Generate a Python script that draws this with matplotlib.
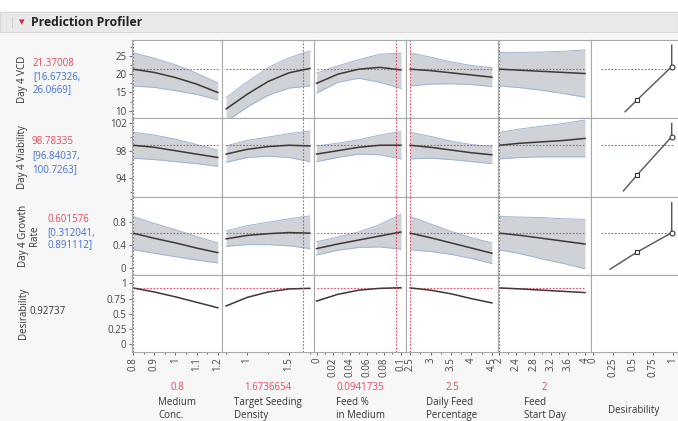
import matplotlib
matplotlib.use("Agg")
import matplotlib.pyplot as plt
from matplotlib import rcParams
from matplotlib.ticker import AutoMinorLocator, FormatStrFormatter

rcParams.update({"font.family": ["Open Sans", "DejaVu Sans"], "font.size": 7})

W, H = 678, 421

factors = ["Medium\nConc.", "Target Seeding\nDensity", "Feed %\nin Medium",
           "Daily Feed\nPercentage", "Feed\nStart Day"]
factor_now = [0.8, 1.6736654, 0.0941735, 2.5, 2.0]
factor_now_txt = ["0.8", "1.6736654", "0.0941735", "2.5", "2"]
factor_x = [
    [0.8, 0.9, 1.0, 1.1, 1.2],
    [0.75, 1.0, 1.25, 1.5, 1.75],
    [0.0, 0.025, 0.05, 0.075, 0.1],
    [2.5, 3.0, 3.5, 4.0, 4.5],
    [2.0, 2.5, 3.0, 3.5, 4.0],
]
factor_xlim = [(0.795, 1.22), (0.70, 1.80), (-0.003, 0.106), (2.40, 4.65), (1.97, 4.14)]
factor_ticks = [[0.8, 0.9, 1, 1.1, 1.2], [1, 1.5], [0, 0.02, 0.04, 0.06, 0.08, 0.1],
                [2.5, 3, 3.5, 4, 4.5], [2, 2.4, 2.8, 3.2, 3.6, 4]]

responses = ["Day 4 VCD", "Day 4 Viability", "Day 4 Growth\nRate", "Desirability"]
resp_now = [21.37008, 98.78335, 0.601576, 0.92737]
resp_now_txt = ["21.37008", "98.78335", "0.601576", "0.92737"]
resp_ci_txt = [["[16.67326,", "26.0669]"], ["[96.84037,", "100.7263]"],
               ["[0.312041,", "0.891112]"], None]
resp_ylim = [(8.0, 29.4), (91.2, 102.8), (-0.13, 1.23), (-0.13, 1.14)]
resp_ticks = [[10, 15, 20, 25], [94, 98, 102], [0, 0.4, 0.8], [0, 0.25, 0.5, 0.75, 1]]

# mean, lower, upper for each response (row) and factor (column)
vcd_mean = [[21.4, 20.5, 19.1, 17.3, 15.0], [10.5, 14.5, 18.0, 20.4, 21.6],
            [17.5, 20.0, 21.4, 21.9, 21.2], [21.4, 21.0, 20.4, 19.8, 19.2],
            [21.4, 21.1, 20.8, 20.5, 20.2]]
vcd_lo = [[16.8, 16.4, 15.5, 14.5, 13.0], [7.0, 11.0, 14.2, 16.2, 16.8],
          [14.8, 17.8, 18.9, 17.8, 16.1], [16.8, 17.3, 17.4, 17.2, 16.6],
          [16.8, 16.3, 15.6, 14.7, 13.7]]
vcd_hi = [[25.9, 24.4, 22.6, 20.3, 17.6], [13.6, 17.9, 21.8, 24.5, 26.4],
          [20.3, 22.3, 24.0, 25.5, 25.8], [25.9, 24.7, 23.4, 22.4, 21.8],
          [26.0, 26.0, 26.1, 26.3, 26.7]]

via_mean = [[98.8, 98.5, 98.0, 97.5, 97.0], [97.5, 98.2, 98.6, 98.8, 98.7],
            [97.5, 98.0, 98.5, 98.8, 98.8], [98.8, 98.5, 98.1, 97.7, 97.4],
            [98.8, 99.1, 99.3, 99.5, 99.8]]
via_lo = [[96.9, 96.7, 96.4, 96.1, 95.7], [96.3, 97.0, 97.2, 97.0, 96.4],
          [96.4, 97.0, 97.5, 97.4, 96.8], [96.8, 96.9, 96.7, 96.4, 96.1],
          [96.8, 97.0, 97.1, 97.1, 97.1]]
via_hi = [[100.7, 100.3, 99.7, 98.9, 98.1], [98.7, 99.5, 100.0, 100.5, 100.9],
          [98.7, 99.1, 99.6, 100.3, 100.8], [100.7, 100.1, 99.4, 98.9, 98.6],
          [100.7, 101.2, 101.6, 102.0, 102.5]]

gr_mean = [[0.60, 0.51, 0.43, 0.34, 0.26], [0.50, 0.56, 0.59, 0.61, 0.60],
           [0.33, 0.41, 0.48, 0.55, 0.62], [0.60, 0.52, 0.43, 0.34, 0.25],
           [0.60, 0.56, 0.51, 0.46, 0.41]]
gr_lo = [[0.31, 0.25, 0.19, 0.13, 0.08], [0.37, 0.40, 0.40, 0.38, 0.33],
         [0.22, 0.30, 0.35, 0.36, 0.32], [0.31, 0.28, 0.23, 0.16, 0.07],
         [0.31, 0.24, 0.15, 0.07, -0.02]]
gr_hi = [[0.89, 0.77, 0.66, 0.54, 0.43], [0.64, 0.73, 0.79, 0.85, 0.90],
         [0.45, 0.53, 0.62, 0.75, 0.93], [0.89, 0.76, 0.63, 0.52, 0.43],
         [0.89, 0.88, 0.87, 0.85, 0.84]]

des_mean = [[0.927, 0.86, 0.78, 0.69, 0.60], [0.63, 0.77, 0.86, 0.91, 0.92],
            [0.71, 0.82, 0.89, 0.92, 0.93], [0.927, 0.89, 0.83, 0.75, 0.68],
            [0.927, 0.91, 0.89, 0.87, 0.85]]

profiles = [(vcd_mean, vcd_lo, vcd_hi), (via_mean, via_lo, via_hi),
            (gr_mean, gr_lo, gr_hi), (des_mean, None, None)]

# desirability functions (desirability on x, response on y)
dfun_x = [[0.40, 0.55, 0.99, 0.99], [0.38, 0.55, 0.99, 0.99], [0.21, 0.545, 0.99, 0.99]]
dfun_y = [[9.7, 12.9, 22.1, 28.0], [92.1, 94.4, 100.05, 102.0], [-0.03, 0.264, 0.607, 1.13]]
des_ticks = [0, 0.25, 0.5, 0.75, 1]

# ---------------- layout ----------------
col_px = [132, 222, 314, 406, 498, 591, 682]
row_px = [40, 118, 197, 275, 352]
RED = "#e4485a"
BLUE = "#3e6fd9"
LINE = "#3f3636"
BAND = "#cfd2d6"
BANDEDGE = "#9fb3d6"
GRID = "#a9a9a9"
fmt = FormatStrFormatter("%g")


def px_axes(fig, x0, y0, x1, y1):
    return fig.add_axes([x0 / W, 1 - y1 / H, (x1 - x0) / W, (y1 - y0) / H])


fig = plt.figure(figsize=(W / 100, H / 100), dpi=100, facecolor="#f7f7f7")

# header bar
fig.patches.append(plt.Rectangle((0, 1 - 32 / H), 1, 20 / H, transform=fig.transFigure,
                                 facecolor="#e9e9e9", edgecolor="#d8d8d8", lw=0.8))
fig.patches.append(plt.Rectangle((0, 1 - 11 / H), 1, 11 / H, transform=fig.transFigure,
                                 facecolor="white", edgecolor="none"))
fig.text(10 / W, 1 - 22 / H, "|", color="#bbbbbb", fontsize=7, va="center")
fig.text(22 / W, 1 - 22 / H, "\u25BE", color="#d22c3c", fontsize=8, va="center", ha="center",
         family="DejaVu Sans")
fig.text(31 / W, 1 - 22 / H, "Prediction Profiler", fontsize=8.8, fontweight="bold",
         va="center", color="#222222")

tick_kw = dict(direction="out", colors="#555555", length=2.5, width=0.6, labelsize=7,
               labelcolor="#444444", pad=1.5)

for r in range(4):
    for c in range(6):
        ax = px_axes(fig, col_px[c], row_px[r], col_px[c + 1], row_px[r + 1])
        ax.set_facecolor("white")
        for s in ax.spines.values():
            s.set_color(GRID)
            s.set_linewidth(0.8)
        ax.set_ylim(*resp_ylim[r])
        ax.tick_params(axis="both", which="both", left=False, bottom=False,
                       labelleft=False, labelbottom=False)
        if c == 0:
            ax.set_yticks(resp_ticks[r])
            ax.yaxis.set_major_formatter(fmt)
            ax.yaxis.set_minor_locator(AutoMinorLocator(2 if r != 3 else 1))
            ax.tick_params(axis="y", which="both", left=True, labelleft=True, **tick_kw)
            ax.tick_params(axis="y", which="minor", length=1.5)
        if c < 5:
            xs = factor_x[c]
            ax.set_xlim(*factor_xlim[c])
            mean, lo, hi = profiles[r]
            if lo is not None:
                ax.fill_between(xs, lo[c], hi[c], color=BAND, lw=0)
                ax.plot(xs, lo[c], color=BANDEDGE, lw=0.7)
                ax.plot(xs, hi[c], color=BANDEDGE, lw=0.7)
            ax.hlines(resp_now[r], xs[0], xs[-1], color=RED, lw=0.8, linestyles=(0, (1.5, 1.5)))
            ax.plot(xs, mean[c], color=LINE, lw=1.1)
            ax.axvline(factor_now[c], color=RED, lw=0.8, ls=(0, (1.5, 1.5)))
            if r == 3:
                ax.set_xticks(factor_ticks[c])
                ax.xaxis.set_major_formatter(fmt)
                ax.xaxis.set_minor_locator(AutoMinorLocator(2))
                ax.tick_params(axis="x", which="both", bottom=True, labelbottom=True,
                               labelrotation=90, **tick_kw)
                ax.tick_params(axis="x", which="minor", length=1.5)
        else:
            ax.set_xlim(-0.03, 1.12)
            if r < 3:
                ax.hlines(resp_now[r], 0.1, 1.0, color=RED, lw=0.8, linestyles=(0, (1.5, 1.5)))
                ax.plot(dfun_x[r], dfun_y[r], color="#555555", lw=1.0)
                ax.plot(dfun_x[r][1], dfun_y[r][1], marker="s", ms=3, mfc="white",
                        mec="#333333", mew=0.8)
                ax.plot(dfun_x[r][2], dfun_y[r][2], marker="o", ms=3.5, mfc="white",
                        mec="#333333", mew=0.8)
            else:
                ax.set_xticks(des_ticks)
                ax.xaxis.set_major_formatter(fmt)
                ax.tick_params(axis="x", which="both", bottom=True, labelbottom=True,
                               labelrotation=90, **tick_kw)

# response labels and current values
label_x = [23, 23, 29, 23]
for r in range(4):
    yc = (row_px[r] + row_px[r + 1]) / 2
    fig.text(label_x[r] / W, 1 - yc / H, responses[r], rotation=90, ha="center", va="center",
             fontsize=7, color="#333333", linespacing=1.0)
for r, (ys, xs0) in enumerate([((63, 77, 90), 33), ((142, 156, 170), 32), ((220, 233, 245), 47)]):
    fig.text(xs0 / W, 1 - ys[0] / H, resp_now_txt[r], color=RED, fontsize=7, va="center")
    fig.text(xs0 / W, 1 - ys[1] / H, resp_ci_txt[r][0], color=BLUE, fontsize=7, va="center")
    fig.text(xs0 / W, 1 - ys[2] / H, resp_ci_txt[r][1], color=BLUE, fontsize=7, va="center")
fig.text(29 / W, 1 - 311 / H, resp_now_txt[3], color="#333333", fontsize=7, va="center")

# factor labels
for c in range(5):
    xc = (col_px[c] + col_px[c + 1]) / 2
    fig.text(xc / W, 1 - 387 / H, factor_now_txt[c], color=RED, fontsize=7,
             ha="center", va="center")
    fig.text(xc / W, 1 - 397 / H, factors[c], color="#333333", fontsize=7,
             ha="center", va="top", multialignment="left", linespacing=1.25)
fig.text(634 / W, 1 - 411 / H, "Desirability", color="#333333", fontsize=7,
         ha="center", va="center")

fig.savefig("out.png", dpi=100, facecolor=fig.get_facecolor())
